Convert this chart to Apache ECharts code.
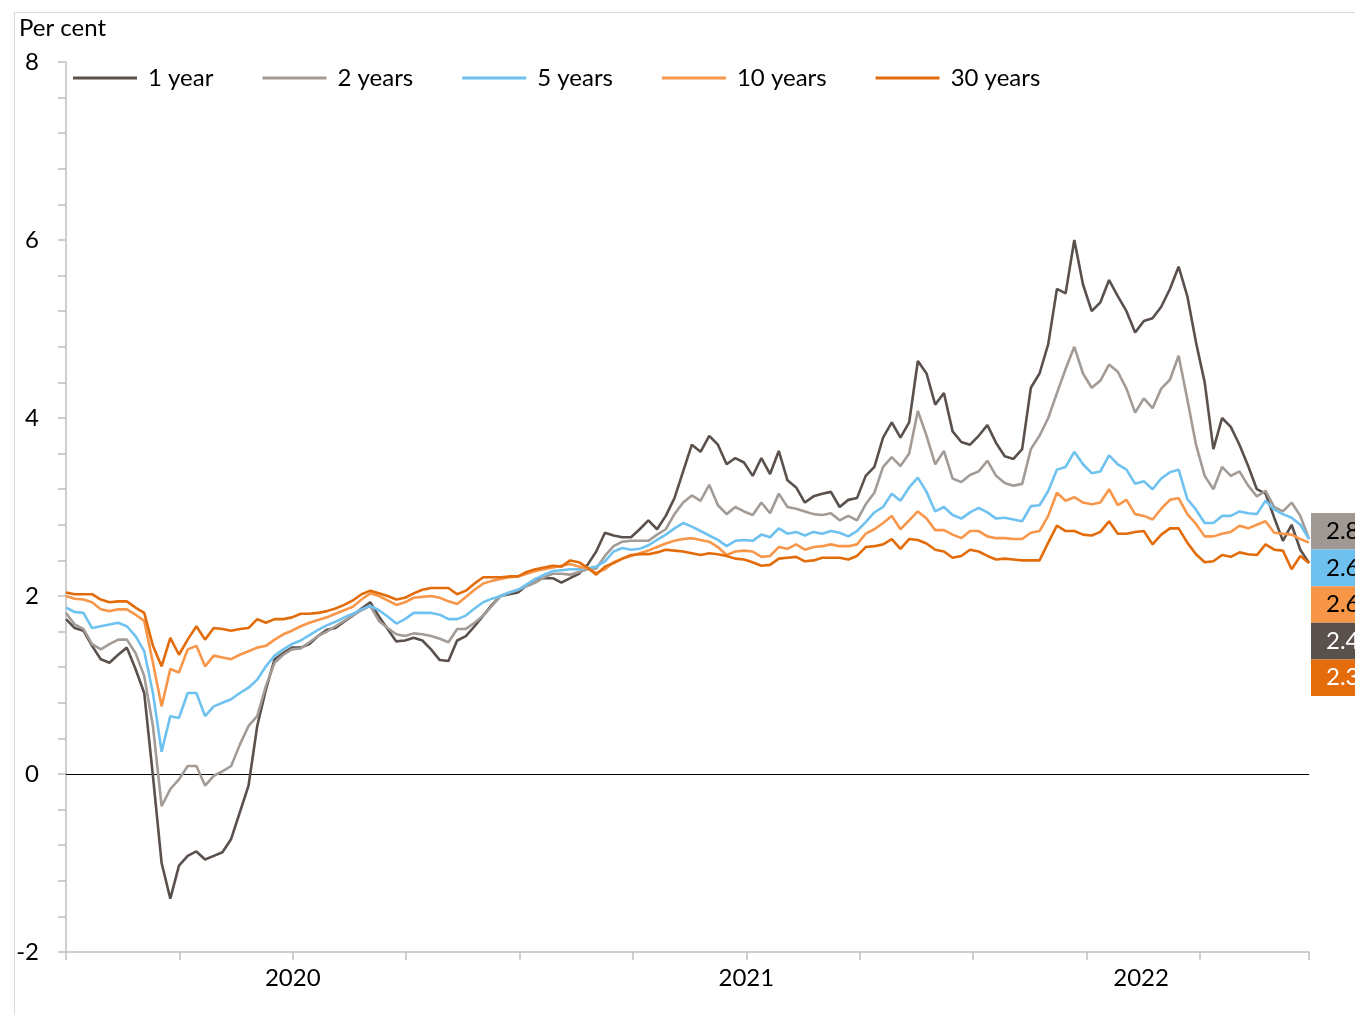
<!DOCTYPE html>
<html>
<head>
<meta charset="utf-8">
<script src="https://cdn.jsdelivr.net/npm/echarts@6/dist/echarts.min.js"></script>
<style>
html,body{margin:0;padding:0;background:#fff;}
#chart{width:1355px;height:1015px;}
</style>
</head>
<body>
<div id="chart"></div>
<script>
// Weekly observations starting 2020-01-01
const startDate = '2020-01-01';
const seriesNames = ['1 year', '2 years', '5 years', '10 years', '30 years'];
const endLabels = ['2.8', '2.6', '2.6', '2.4', '2.3'];
const yearLabels = ['2020', '2021', '2022'];

const y1 = [1.74,1.64,1.61,1.44,1.29,1.25,1.34,1.42,1.18,0.91,-0.02,-1.00,-1.40,-1.03,-0.92,-0.87,-0.96,-0.92,-0.88,-0.73,
 -0.43,-0.13,0.54,0.95,1.29,1.36,1.42,1.42,1.46,1.55,1.62,1.64,1.71,1.78,1.86,1.93,1.77,1.63,1.49,1.50,
 1.53,1.50,1.40,1.28,1.27,1.50,1.55,1.66,1.78,1.90,2.00,2.02,2.04,2.12,2.19,2.20,2.20,2.15,2.20,2.25,
 2.35,2.50,2.71,2.68,2.66,2.66,2.75,2.85,2.75,2.90,3.10,3.40,3.70,3.62,3.80,3.70,3.48,3.55,3.50,3.35,
 3.55,3.37,3.63,3.30,3.22,3.05,3.12,3.15,3.17,3.00,3.08,3.10,3.35,3.45,3.78,3.95,3.78,3.95,4.64,4.50,
 4.15,4.28,3.85,3.73,3.70,3.80,3.92,3.72,3.57,3.54,3.65,4.34,4.50,4.83,5.45,5.40,6.00,5.50,5.20,5.30,
 5.55,5.37,5.20,4.96,5.09,5.12,5.25,5.45,5.70,5.37,4.85,4.40,3.65,4.00,3.90,3.70,3.46,3.20,3.15,2.88,
 2.62,2.80,2.52,2.37];
const y2 = [1.81,1.68,1.63,1.46,1.40,1.46,1.51,1.51,1.36,1.10,0.54,-0.36,-0.17,-0.06,0.09,0.09,-0.13,-0.02,0.03,0.09,
 0.33,0.54,0.65,0.99,1.25,1.34,1.40,1.41,1.48,1.55,1.60,1.66,1.72,1.78,1.84,1.89,1.72,1.64,1.57,1.55,
 1.58,1.57,1.55,1.52,1.48,1.63,1.63,1.70,1.78,1.89,2.00,2.04,2.07,2.11,2.15,2.21,2.25,2.25,2.24,2.27,
 2.30,2.31,2.45,2.56,2.61,2.62,2.62,2.62,2.69,2.75,2.92,3.05,3.13,3.07,3.25,3.02,2.92,3.00,2.95,2.91,
 3.05,2.93,3.15,3.00,2.98,2.95,2.92,2.91,2.93,2.85,2.90,2.85,3.03,3.16,3.45,3.56,3.46,3.60,4.08,3.80,
 3.48,3.63,3.32,3.28,3.36,3.40,3.52,3.35,3.27,3.24,3.26,3.65,3.80,4.00,4.28,4.55,4.80,4.50,4.34,4.42,
 4.60,4.52,4.33,4.06,4.22,4.11,4.33,4.43,4.70,4.21,3.70,3.35,3.20,3.45,3.35,3.40,3.24,3.12,3.18,3.00,
 2.95,3.05,2.90,2.64];
const y5 = [1.87,1.82,1.81,1.64,1.66,1.68,1.70,1.66,1.55,1.38,0.91,0.25,0.65,0.63,0.91,0.91,0.65,0.76,0.80,0.84,
 0.91,0.97,1.06,1.21,1.33,1.40,1.46,1.50,1.56,1.62,1.67,1.71,1.76,1.80,1.85,1.89,1.84,1.77,1.69,1.74,
 1.81,1.81,1.81,1.79,1.74,1.74,1.78,1.86,1.93,1.97,2.00,2.04,2.07,2.13,2.19,2.24,2.28,2.29,2.30,2.30,
 2.31,2.33,2.39,2.50,2.54,2.52,2.53,2.57,2.63,2.69,2.76,2.82,2.78,2.73,2.68,2.63,2.56,2.62,2.63,2.62,
 2.69,2.66,2.76,2.70,2.72,2.68,2.72,2.70,2.73,2.71,2.67,2.73,2.83,2.94,3.00,3.15,3.07,3.22,3.33,3.17,
 2.95,3.00,2.91,2.87,2.94,2.99,2.94,2.87,2.88,2.86,2.84,3.01,3.02,3.18,3.42,3.45,3.62,3.48,3.38,3.40,
 3.58,3.48,3.42,3.26,3.29,3.20,3.32,3.39,3.42,3.09,2.97,2.82,2.82,2.90,2.90,2.95,2.93,2.92,3.07,2.97,
 2.92,2.88,2.80,2.64];
const y10 = [2.00,1.97,1.96,1.93,1.85,1.83,1.85,1.85,1.79,1.72,1.25,0.76,1.18,1.14,1.40,1.44,1.21,1.33,1.31,1.29,
 1.34,1.38,1.42,1.44,1.51,1.57,1.61,1.66,1.70,1.73,1.76,1.80,1.84,1.88,1.96,2.03,2.00,1.95,1.90,1.93,
 1.98,1.99,2.00,1.98,1.94,1.91,1.99,2.07,2.14,2.17,2.19,2.21,2.22,2.25,2.28,2.30,2.32,2.34,2.36,2.33,
 2.31,2.26,2.30,2.38,2.42,2.45,2.48,2.51,2.55,2.59,2.62,2.64,2.65,2.63,2.61,2.55,2.46,2.50,2.51,2.50,
 2.44,2.45,2.55,2.53,2.58,2.52,2.55,2.56,2.58,2.56,2.56,2.58,2.70,2.75,2.82,2.90,2.75,2.85,2.95,2.87,
 2.74,2.74,2.69,2.65,2.73,2.73,2.67,2.65,2.65,2.64,2.64,2.71,2.73,2.90,3.16,3.07,3.11,3.05,3.03,3.05,
 3.20,3.02,3.08,2.92,2.90,2.86,2.98,3.08,3.10,2.92,2.81,2.67,2.67,2.70,2.72,2.79,2.76,2.80,2.84,2.71,
 2.70,2.69,2.64,2.60];
const y30 = [2.04,2.02,2.02,2.02,1.96,1.93,1.94,1.94,1.87,1.81,1.44,1.21,1.53,1.34,1.51,1.66,1.51,1.64,1.63,1.61,
 1.63,1.64,1.74,1.70,1.74,1.74,1.76,1.80,1.80,1.81,1.83,1.86,1.90,1.95,2.02,2.06,2.03,2.00,1.96,1.98,
 2.03,2.07,2.09,2.09,2.09,2.02,2.06,2.14,2.21,2.21,2.21,2.22,2.22,2.27,2.30,2.32,2.34,2.33,2.40,2.38,
 2.32,2.24,2.33,2.37,2.42,2.46,2.47,2.47,2.49,2.52,2.51,2.50,2.48,2.46,2.48,2.47,2.45,2.42,2.41,2.38,
 2.34,2.35,2.42,2.43,2.44,2.39,2.40,2.43,2.43,2.43,2.41,2.45,2.55,2.56,2.58,2.64,2.53,2.64,2.63,2.59,
 2.52,2.50,2.43,2.45,2.52,2.50,2.45,2.41,2.42,2.41,2.40,2.40,2.40,2.60,2.79,2.73,2.73,2.69,2.68,2.72,
 2.84,2.70,2.70,2.72,2.73,2.58,2.69,2.76,2.76,2.60,2.47,2.38,2.39,2.46,2.44,2.49,2.47,2.46,2.58,2.52,
 2.51,2.30,2.45,2.37];

const seriesValues = [y1, y2, y5, y10, y30];
const colors = ['#5a504c', '#a39b96', '#6fc2f0', '#f8964a', '#e36c0a'];
const boxColors = ['#a09893', '#6ec1ef', '#f79646', '#5a504c', '#e46c0a'];
const boxText = ['#000', '#000', '#000', '#fff', '#fff'];

// dates -> days since start
const t0 = Date.parse(startDate + 'T00:00:00Z');
const dates = [];
for (let i = 0; i < y1.length; i++) {
  const d = new Date(t0 + i * 7 * 864e5);
  dates.push(d.toISOString().slice(0, 10));
}
const days = dates.map(d => (Date.parse(d + 'T00:00:00Z') - t0) / 864e5);
const lastDay = days[days.length - 1];

const FONT = 'Lato, "Noto Sans", sans-serif';
const QUARTER = 365.25 / 4;
// year labels centred on the visible part of each year
const yearLabelPos = yearLabels.map((y, k) => {
  const a = k * 365.25, b = Math.min((k + 1) * 365.25, lastDay);
  return (a + b) / 2;
});

const chart = echarts.init(document.getElementById('chart'), null, {renderer: 'canvas'});

const series = seriesNames.map((name, k) => ({
  name: name,
  type: 'line',
  showSymbol: false,
  symbol: 'none',
  color: colors[k],
  lineStyle: {width: 2.6, color: colors[k]},
  data: days.map((d, i) => [d, seriesValues[k][i]]),
  z: 3 + k,
  markLine: k === 0 ? {
    silent: true, symbol: ['none', 'none'], label: {show: false},
    lineStyle: {color: '#000', width: 1.2, type: 'solid'},
    data: [{yAxis: 0}], z: 2
  } : undefined
}));

const graphics = [
  {type: 'rect', left: 12, top: 10, shape: {width: 1400, height: 1100},
   style: {fill: 'none', stroke: '#d9d9d9', lineWidth: 1}, silent: true}
];
endLabels.forEach((txt, j) => {
  graphics.push({
    type: 'group', left: 1311, top: 513 + j * 36.6,
    children: [
      {type: 'rect', shape: {x: 0, y: 0, width: 60, height: 36.6}, style: {fill: boxColors[j]}},
      {type: 'text', x: 15, y: 18.3, style: {text: txt, fill: boxText[j], font: '24px ' + FONT, textVerticalAlign: 'middle', verticalAlign: 'middle'}}
    ]
  });
});

chart.setOption({
  animation: false,
  backgroundColor: '#fff',
  textStyle: {fontFamily: FONT},
  title: {text: 'Per cent', left: 14, top: 11,
    textStyle: {fontFamily: FONT, fontSize: 24, fontWeight: 'normal', color: '#000'}},
  legend: {
    data: seriesNames, left: 68, top: 61, icon: 'rect', itemWidth: 64, itemHeight: 3, itemGap: 49,
    textStyle: {fontFamily: FONT, fontSize: 24, color: '#000', padding: [0, 0, 0, 6]}
  },
  grid: {left: 66, right: 46, top: 62, bottom: 63, containLabel: false},
  xAxis: {
    type: 'value', min: 0, max: lastDay, interval: QUARTER,
    splitLine: {show: false},
    axisLine: {show: true, onZero: false, lineStyle: {color: '#bfbfbf', width: 1.5}},
    axisTick: {show: true, length: 8, lineStyle: {color: '#bfbfbf', width: 1.5}},
    axisLabel: {show: false}
  },
  yAxis: {
    type: 'value', min: -2, max: 8, interval: 2,
    splitLine: {show: false},
    axisLine: {show: true, lineStyle: {color: '#bfbfbf', width: 1.5}},
    axisTick: {show: true, length: 8, lineStyle: {color: '#bfbfbf', width: 1.5}},
    minorTick: {show: true, splitNumber: 5, length: 8, lineStyle: {color: '#bfbfbf', width: 1.5}},
    axisLabel: {fontFamily: FONT, fontSize: 24, color: '#000', margin: 27}
  },
  graphic: graphics,
  series: series
});

// year labels placed through the x-axis scale
const yBase = chart.convertToPixel({yAxisIndex: 0}, -2);
const yearTexts = yearLabels.map((lab, k) => ({
  type: 'text',
  x: chart.convertToPixel({xAxisIndex: 0}, yearLabelPos[k]),
  y: yBase + 14,
  style: {text: lab, fill: '#000', font: '24px ' + FONT, textAlign: 'center', textVerticalAlign: 'top', verticalAlign: 'top', align: 'center'},
  silent: true
}));
chart.setOption({graphic: graphics.concat(yearTexts)});
</script>
</body>
</html>
